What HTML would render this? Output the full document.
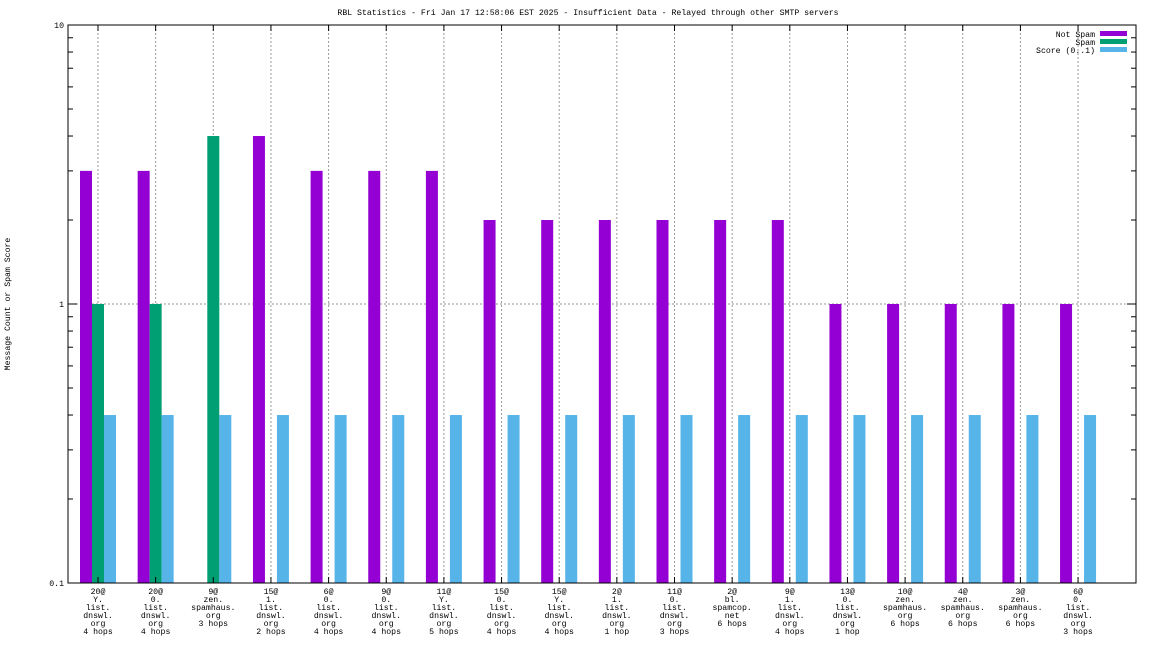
<!DOCTYPE html>
<html><head><meta charset="utf-8">
<style>
html,body{margin:0;padding:0;background:#fff;}
svg{display:block;font-family:"Liberation Mono",monospace;font-size:8.2px;}
</style></head>
<body>
<svg id="chart" width="1152" height="648" viewBox="0 0 1152 648">
<rect x="0" y="0" width="1152" height="648" fill="#fff"/>
<text x="588" y="15" text-anchor="middle">RBL Statistics - Fri Jan 17 12:58:06 EST 2025 - Insufficient Data - Relayed through other SMTP servers</text>
<text transform="translate(10,304) rotate(-90)" text-anchor="middle">Message Count or Spam Score</text>
<g id="grid"></g>
<g id="bars"></g>
<rect x="68" y="25" width="1068" height="558" fill="none" stroke="#000" stroke-width="1"/>
<g id="axes"></g>
<g id="legend">
<text x="1095" y="37" text-anchor="end">Not Spam</text>
<rect x="1100" y="31" width="27" height="5" fill="#9400d3"/>
<text x="1095" y="45" text-anchor="end">Spam</text>
<rect x="1100" y="39" width="27" height="5" fill="#009e73"/>
<text x="1095" y="53" text-anchor="end">Score (0..1)</text>
<rect x="1100" y="47" width="27" height="5" fill="#56b4e9"/>
</g>
</svg>
<script>
const categories = [
 ["20@","Y.","list.","dnswl.","org","4 hops"],
 ["20@","0.","list.","dnswl.","org","4 hops"],
 ["9@","zen.","spamhaus.","org","3 hops"],
 ["15@","1.","list.","dnswl.","org","2 hops"],
 ["6@","0.","list.","dnswl.","org","4 hops"],
 ["9@","0.","list.","dnswl.","org","4 hops"],
 ["11@","Y.","list.","dnswl.","org","5 hops"],
 ["15@","0.","list.","dnswl.","org","4 hops"],
 ["15@","Y.","list.","dnswl.","org","4 hops"],
 ["2@","1.","list.","dnswl.","org","1 hop"],
 ["11@","0.","list.","dnswl.","org","3 hops"],
 ["2@","bl.","spamcop.","net","6 hops"],
 ["9@","1.","list.","dnswl.","org","4 hops"],
 ["13@","0.","list.","dnswl.","org","1 hop"],
 ["10@","zen.","spamhaus.","org","6 hops"],
 ["4@","zen.","spamhaus.","org","6 hops"],
 ["3@","zen.","spamhaus.","org","6 hops"],
 ["6@","0.","list.","dnswl.","org","3 hops"]
];
const notSpam = [3,3,0,4,3,3,3,2,2,2,2,2,2,1,1,1,1,1];
const spam = [1,1,4,0,0,0,0,0,0,0,0,0,0,0,0,0,0,0];
const score = [0.4,0.4,0.4,0.4,0.4,0.4,0.4,0.4,0.4,0.4,0.4,0.4,0.4,0.4,0.4,0.4,0.4,0.4];
const yTickLabels = ["0.1","1","10"];
const yTickValues = [0.1,1,10];

const NS="http://www.w3.org/2000/svg";
const yTop=25,yBottom=583,xLeft=68,xRight=1136;
function yScale(v){return yBottom-(Math.log10(v)+1)/2*(yBottom-yTop);}
function xScale(i){return 98+i*57.65;}
function mk(tag,attrs,parent){const e=document.createElementNS(NS,tag);for(const k in attrs)e.setAttribute(k,attrs[k]);parent.appendChild(e);return e;}
const grid=document.getElementById('grid'),bars=document.getElementById('bars'),axes=document.getElementById('axes');

{const l=mk('line',{x1:xLeft,x2:xRight,y1:yScale(1),y2:yScale(1),stroke:'#999','stroke-dasharray':'2,2','stroke-width':1},grid);

}

categories.forEach((c,i)=>{
 const cx=xScale(i);
 const g=mk('line',{x1:cx,x2:cx,y1:yTop,y2:yBottom,stroke:'#999','stroke-dasharray':'2,2','stroke-width':1},grid);
 
 
 const series=[[notSpam[i],'#9400d3','bar-not-spam',-18],[spam[i],'#009e73','bar-spam',-6],[score[i],'#56b4e9','bar-score',6]];
 series.forEach(s=>{
  if(s[0]>0.1){
   const y=yScale(s[0]);
   const r=mk('rect',{x:cx+s[3],y:y,width:12,height:yBottom-y,fill:s[1]},bars);
   
   
  }
 });
 const t=mk('line',{x1:cx,x2:cx,y1:yBottom,y2:yBottom-6,stroke:'#000'},axes);
 
 
 const tt=mk('line',{x1:cx,x2:cx,y1:yTop,y2:yTop+6,stroke:'#000'},axes);
 
 
 const tx=mk('text',{x:cx,y:594,'text-anchor':'middle'},axes);
 
 
 c.forEach((line,k)=>{const sp=mk('tspan',{x:cx,dy:k===0?0:8},tx);sp.textContent=line;});
});

yTickValues.forEach((v,k)=>{
 const y=yScale(v);
 [[xLeft,xLeft+9],[xRight,xRight-9]].forEach(p=>{
  const l=mk('line',{x1:p[0],x2:p[1],y1:y,y2:y,stroke:'#000'},axes);
  
  
 });
 const t=mk('text',{x:xLeft-4,y:y+3,'text-anchor':'end'},axes);
 
 
 t.textContent=yTickLabels[k];
});
for(let d=0.1;d<5;d*=10){
 for(let m=2;m<=9;m++){
  const y=yScale(d*m);
  [[xLeft,xLeft+5],[xRight,xRight-5]].forEach(p=>{
   const l=mk('line',{x1:p[0],x2:p[1],y1:y,y2:y,stroke:'#000'},axes);
   
   
  });
 }
}
</script>
</body></html>
